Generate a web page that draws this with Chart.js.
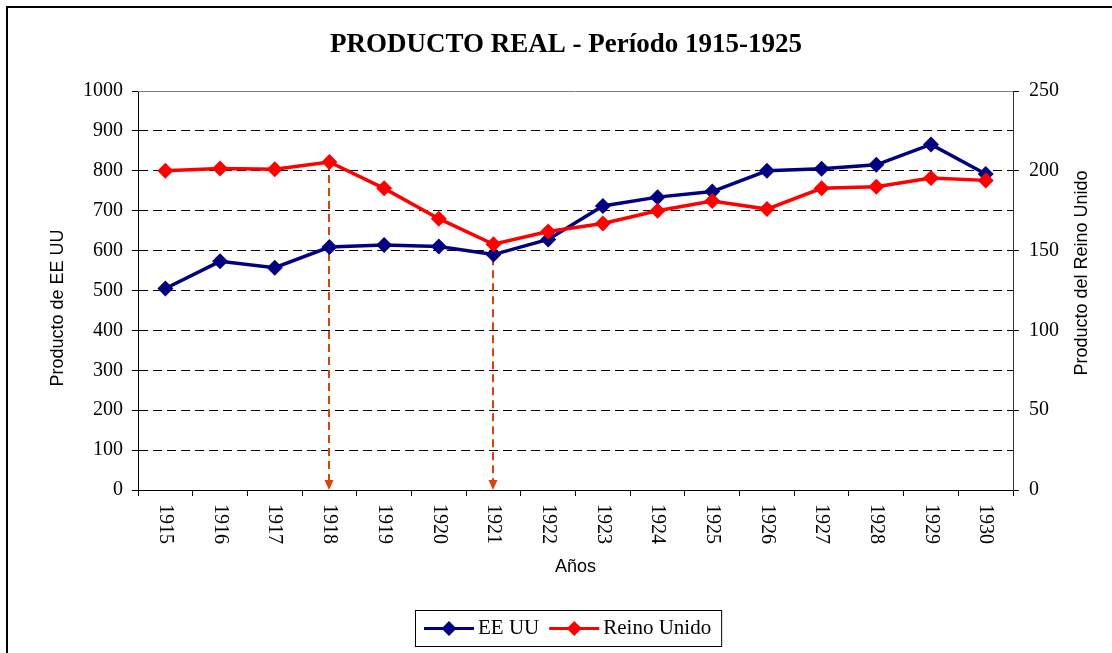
<!DOCTYPE html>
<html>
<head>
<meta charset="utf-8">
<title>Producto real 1915-1925</title>
<script src="https://cdn.jsdelivr.net/npm/chart.js@4.4.1/dist/chart.umd.min.js"></script>
<style>
  html, body { margin: 0; padding: 0; background: #fff; overflow: hidden; }
  #wrap { width: 1112px; height: 653px; }
</style>
</head>
<body>
<div id="wrap"><canvas id="productoChart" width="1112" height="653"></canvas></div>
<script>
"use strict";

// data
var years = ["1915", "1916", "1917", "1918", "1919", "1920", "1921", "1922",
  "1923", "1924", "1925", "1926", "1927", "1928", "1929", "1930"];
var eeuuValues = [505, 573, 557, 609, 614, 610, 590, 628, 712, 734, 748, 800, 805, 815, 866, 792];
var reinoValues = [200, 201.5, 201, 205.5, 189, 170, 154, 162, 167, 175, 181, 176, 189, 190, 195.5, 194];
var seriesNames = ["EE UU", "Reino Unido"];
var seriesColors = ["#000080", "#FF0000"];
var arrowYears = ["1918", "1921"];

var arrowColor = "#D9410F";
var serifFont = "'Liberation Serif', 'Times New Roman', serif";
var sansFont = "'Liberation Sans', Arial, sans-serif";

function drawDiamond(ctx, x, y, r, color) {
  ctx.beginPath();
  ctx.moveTo(x, y - r);
  ctx.lineTo(x + r, y);
  ctx.lineTo(x, y + r);
  ctx.lineTo(x - r, y);
  ctx.closePath();
  ctx.fillStyle = color;
  ctx.fill();
}

var extrasPlugin = {
  id: "extras",
  beforeDraw: function (chart) {
    var ctx = chart.ctx;
    ctx.save();
    ctx.fillStyle = "#fff";
    ctx.fillRect(0, 0, chart.width, chart.height);
    // outer frame (runs off the right and bottom edges)
    ctx.strokeStyle = "#000";
    ctx.lineWidth = 2;
    ctx.strokeRect(7, 7, chart.width + 50, chart.height + 50);
    ctx.restore();
  },
  beforeDatasetsDraw: function (chart) {
    var ctx = chart.ctx;
    var area = chart.chartArea;
    var xs = chart.scales.x;
    var y1 = chart.scales.y1;

    ctx.save();
    // top border of the plot area
    ctx.strokeStyle = "#808080";
    ctx.lineWidth = 1;
    ctx.beginPath();
    ctx.moveTo(area.left, area.top + 0.5);
    ctx.lineTo(area.right, area.top + 0.5);
    ctx.stroke();

    // dashed arrows down to the axis
    arrowYears.forEach(function (yr) {
      var i = years.indexOf(yr);
      var x = Math.round(xs.getPixelForValue(i));
      var yTop = y1.getPixelForValue(reinoValues[i]);
      var yBot = xs.top;
      ctx.strokeStyle = arrowColor;
      ctx.lineWidth = 2;
      ctx.setLineDash([8, 5]);
      ctx.beginPath();
      ctx.moveTo(x, yTop);
      ctx.lineTo(x, yBot - 9);
      ctx.stroke();
      ctx.setLineDash([]);
      ctx.fillStyle = arrowColor;
      ctx.beginPath();
      ctx.moveTo(x - 4.5, yBot - 10);
      ctx.lineTo(x + 4.5, yBot - 10);
      ctx.lineTo(x, yBot);
      ctx.closePath();
      ctx.fill();
    });
    ctx.restore();
  },
  afterDraw: function (chart) {
    var ctx = chart.ctx;
    var xs = chart.scales.x;
    ctx.save();

    // year labels, turned clockwise
    ctx.fillStyle = "#000";
    ctx.font = "20px " + serifFont;
    years.forEach(function (yr, i) {
      var px = xs.getPixelForValue(i);
      ctx.save();
      ctx.translate(px, xs.top + 14);
      ctx.rotate(Math.PI / 2);
      ctx.textAlign = "left";
      ctx.textBaseline = "middle";
      ctx.fillText(yr, 0, 0);
      ctx.restore();
    });

    // axis titles
    ctx.font = "18px " + sansFont;
    ctx.textAlign = "center";
    ctx.textBaseline = "middle";
    ctx.save();
    ctx.translate(58, 308);
    ctx.rotate(-Math.PI / 2);
    ctx.fillText("Producto de EE UU", 0, 0);
    ctx.restore();
    ctx.save();
    ctx.translate(1082, 273);
    ctx.rotate(-Math.PI / 2);
    ctx.fillText("Producto del Reino Unido", 0, 0);
    ctx.restore();

    // legend box
    ctx.font = "21px " + serifFont;
    var lineLen = 50, textGap = 4, itemGap = 10, padL = 9, padR = 10;
    var widths = seriesNames.map(function (n) { return ctx.measureText(n).width; });
    var total = padL + padR + itemGap * (seriesNames.length - 1);
    widths.forEach(function (w) { total += lineLen + textGap + w; });
    var boxLeft = Math.round(568.5 - total / 2);
    var boxTop = 610, boxH = 36;
    ctx.strokeStyle = "#000";
    ctx.lineWidth = 1;
    ctx.strokeRect(boxLeft + 0.5, boxTop + 0.5, total, boxH);
    var cy = boxTop + boxH / 2 + 0.5;
    var cx = boxLeft + padL;
    seriesNames.forEach(function (name, i) {
      ctx.strokeStyle = seriesColors[i];
      ctx.lineWidth = 3;
      ctx.beginPath();
      ctx.moveTo(cx, cy);
      ctx.lineTo(cx + lineLen, cy);
      ctx.stroke();
      drawDiamond(ctx, cx + lineLen / 2, cy, 7.5, seriesColors[i]);
      ctx.fillStyle = "#000";
      ctx.textAlign = "left";
      ctx.textBaseline = "middle";
      ctx.fillText(name, cx + lineLen + textGap, cy);
      cx += lineLen + textGap + widths[i] + itemGap;
    });

    ctx.restore();
  },
};

var ctx = document.getElementById("productoChart");

new Chart(ctx, {
  type: "line",
  data: {
    labels: years,
    datasets: [
      {
        label: seriesNames[0],
        data: eeuuValues,
        yAxisID: "y",
        borderColor: seriesColors[0],
        backgroundColor: seriesColors[0],
        borderWidth: 3.5,
        pointStyle: "rectRot",
        pointRadius: 8,
        pointBorderWidth: 0,
        tension: 0,
        order: 2,
      },
      {
        label: seriesNames[1],
        data: reinoValues,
        yAxisID: "y1",
        borderColor: seriesColors[1],
        backgroundColor: seriesColors[1],
        borderWidth: 3.5,
        pointStyle: "rectRot",
        pointRadius: 8,
        pointBorderWidth: 0,
        tension: 0,
        order: 1,
      },
    ],
  },
  options: {
    responsive: false,
    animation: false,
    layout: {
      // extra left padding keeps the title centred where the reference has it
      padding: { left: 20, right: 0, top: 0, bottom: 63 },
    },
    plugins: {
      legend: { display: false },
      tooltip: { enabled: false },
      title: {
        display: true,
        text: "PRODUCTO REAL - Período 1915-1925",
        color: "#000",
        font: { family: serifFont, size: 27, weight: "bold" },
        padding: { top: 29, bottom: 29.6 },
      },
    },
    scales: {
      x: {
        type: "category",
        offset: true,
        afterFit: function (scale) { scale.height = 100; },
        grid: {
          display: true,
          offset: true,
          drawOnChartArea: false,
          drawTicks: true,
          tickLength: 6,
          tickColor: "#000",
        },
        border: { display: true, color: "#000", width: 1 },
        ticks: { display: false },
        title: {
          display: true,
          text: "Años",
          color: "#000",
          font: { family: sansFont, size: 18 },
          padding: { top: 0, bottom: 12 },
        },
      },
      y: {
        position: "left",
        min: 0,
        max: 1000,
        afterFit: function (scale) { scale.width = 118; },
        ticks: {
          stepSize: 100,
          color: "#000",
          padding: 9,
          font: { family: serifFont, size: 20 },
          callback: function (v) { return String(v); },
        },
        grid: {
          color: function (c) {
            return c.tick && c.tick.value === 1000 ? "rgba(0,0,0,0)" : "#000";
          },
          lineWidth: 1,
          drawTicks: true,
          tickLength: 6,
          tickColor: "#000",
          tickBorderDash: [],
        },
        border: { display: true, color: "#000", width: 1, dash: [9, 5] },
      },
      y1: {
        position: "right",
        min: 0,
        max: 250,
        afterFit: function (scale) { scale.width = 99; },
        ticks: {
          stepSize: 50,
          color: "#000",
          padding: 10,
          font: { family: serifFont, size: 20 },
          callback: function (v) { return String(v); },
        },
        grid: {
          drawOnChartArea: false,
          drawTicks: true,
          tickLength: 6,
          tickColor: "#000",
        },
        border: { display: true, color: "#333", width: 1 },
      },
    },
  },
  plugins: [extrasPlugin],
});
</script>
</body>
</html>
